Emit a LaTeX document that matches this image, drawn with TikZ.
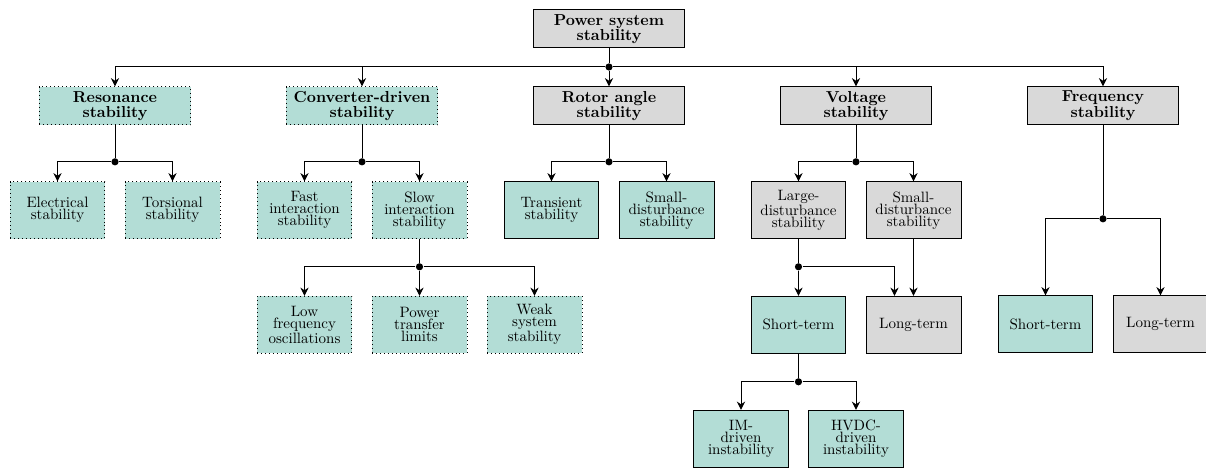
\documentclass[tikz,border=0pt]{standalone}
\usepackage{tikz}
\usetikzlibrary{shapes, arrows.meta, positioning}
\usepackage{xcolor}
\definecolor{tealfill}{HTML}{B3DDD6}
\definecolor{grayfill}{HTML}{D9D9D9}

\begin{document}
\begin{tikzpicture}[node distance=1.8cm, auto, >=Stealth, line width=0.65pt]

	\useasboundingbox (-14.266,0.679) rectangle (13.985,-10.284);

	\tikzstyle{head} = [draw, rectangle, fill=grayfill, align=center, font=\fontsize{10.6}{10.2}\selectfont\bfseries, minimum width=3.56cm, minimum height=0.89cm, inner sep=1pt]
	
	\tikzstyle{headnew} = [head, fill=tealfill, dotted]
	
	\tikzstyle{leaf} = [draw, rectangle, fill=tealfill, align=center, font=\fontsize{10}{8}\selectfont, minimum width=2.225cm, minimum height=1.335cm, inner sep=1pt]
	
	\tikzstyle{leafgray} = [leaf, fill=grayfill]
	
	\tikzstyle{leafnew} = [leaf, dotted]
	
	\tikzstyle{dot} = [circle, fill, inner sep=0pt, minimum size=4.8pt]
	
	\tikzstyle{line} = [draw, -{Stealth[length=5.5pt, width=5.5pt, inset=1.8pt]}]
	
	\node[head] (psys) {Power system\\stability};
	\node[head] (rotor) [below of=psys] {Rotor angle\\stability};
	\node[headnew] (conv) [left of=rotor, node distance=5.786cm] {Converter-driven\\stability};
	\node[headnew] (reson) [left of=conv, node distance=5.786cm] {Resonance\\stability};
	\node[head] (volt) [right of=rotor, node distance=5.786cm] {Voltage\\stability};
	\node[head] (freq) [right of=volt, node distance=5.786cm] {Frequency\\stability};
	
	\node[leafnew] (elec) [on grid, below left=2.448cm and 1.347cm of reson] {Electrical\\stability};
	\node[leafnew] (tors) [on grid, below right=2.448cm and 1.347cm of reson] {Torsional\\stability};
	\node[leafnew] (fast) [on grid, below left=2.448cm and 1.347cm of conv] {Fast\\interaction\\stability};
	\node[leafnew] (slow) [on grid, below right=2.448cm and 1.347cm of conv] {Slow\\interaction\\stability};
	\node[leaf] (trans) [on grid, below left=2.448cm and 1.347cm of rotor] {Transient\\stability};
	\node[leaf] (smallrot) [on grid, below right=2.448cm and 1.347cm of rotor] {Small-\\disturbance\\stability};
	\node[leafgray] (large) [on grid, below left=2.448cm and 1.347cm of volt] {Large-\\disturbance\\stability};
	\node[leafgray] (smallvolt) [on grid, below right=2.448cm and 1.347cm of volt] {Small-\\disturbance\\stability};
	
	\node[leafnew] (power) [below of=slow, node distance=2.682cm] {Power\\transfer\\limits};
	\node[leafnew] (lowf) [left of=power, node distance=2.694cm] {Low\\frequency\\oscillations};
	\node[leafnew] (weak) [right of=power, node distance=2.694cm] {Weak\\system\\stability};
	
	\node[leaf] (vshort) [below of=large, node distance=2.682cm] {Short-term};
	\node[leafgray] (vlong) [below of=smallvolt, node distance=2.682cm] {Long-term};
	\node[leaf] (im) [on grid, below left=2.67cm and 1.347cm of vshort] {IM-\\driven\\instability};
	\node[leaf] (hvdc) [on grid, below right=2.67cm and 1.347cm of vshort] {HVDC-\\driven\\instability};
	
	\node[leaf] (fshort) [on grid, below left=5.118cm and 1.347cm of freq] {Short-term};
	\node[leafgray] (flong) [on grid, below right=5.118cm and 1.347cm of freq] {Long-term};
	
	% junctions
	\node[dot] (j0) [below of=psys, node distance=0.89cm] {};
	\node[dot] (jres) [below of=reson, node distance=1.312cm] {};
	\node[dot] (jconv) [below of=conv, node distance=1.312cm] {};
	\node[dot] (jrot) [below of=rotor, node distance=1.312cm] {};
	\node[dot] (jvolt) [below of=volt, node distance=1.312cm] {};
	\node[dot] (jfreq) [below of=freq, node distance=2.647cm] {};
	\node[dot] (jslow) [below of=slow, node distance=1.323cm] {};
	\node[dot] (jlarge) [below of=large, node distance=1.323cm] {};
	\node[dot] (jshort) [below of=vshort, node distance=1.335cm] {};
	
	\draw (psys) -- (j0);
	\path [line] (j0) -- (rotor);
	\path [line] (j0) -| (conv);
	\path [line] (j0) -| (reson);
	\path [line] (j0) -| (volt);
	\path [line] (j0) -| (freq);
	
	\draw (reson) -- (jres);
	\path [line] (jres) -| (elec);
	\path [line] (jres) -| (tors);
	
	\draw (conv) -- (jconv);
	\path [line] (jconv) -| (fast);
	\path [line] (jconv) -| (slow);
	
	\draw (slow) -- (jslow);
	\path [line] (jslow) -| (lowf);
	\path [line] (jslow) -- (power);
	\path [line] (jslow) -| (weak);
	
	\draw (rotor) -- (jrot);
	\path [line] (jrot) -| (trans);
	\path [line] (jrot) -| (smallrot);
	
	\draw (volt) -- (jvolt);
	\path [line] (jvolt) -| (large);
	\path [line] (jvolt) -| (smallvolt);
	
	\draw (large) -- (jlarge);
	\path [line] (jlarge) -- (vshort);
	\path [line] (jlarge) -| ([xshift=-0.445cm]vlong.north);
	\path [line] (smallvolt) -- (vlong);
	
	\draw (vshort) -- (jshort);
	\path [line] (jshort) -| (im);
	\path [line] (jshort) -| (hvdc);
	
	\draw (freq) -- (jfreq);
	\path [line] (jfreq) -| (fshort);
	\path [line] (jfreq) -| (flong);
	
\end{tikzpicture}
\end{document}
